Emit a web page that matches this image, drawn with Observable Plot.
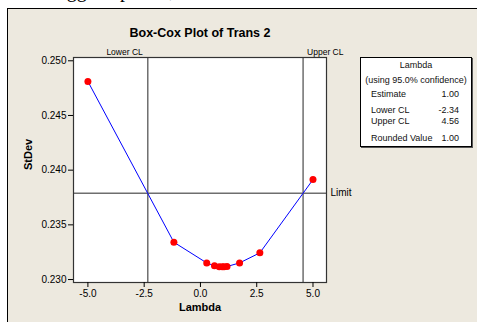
<!DOCTYPE html>
<html><head><meta charset="utf-8">
<script src="https://cdn.jsdelivr.net/npm/d3@7"></script>
<script src="https://cdn.jsdelivr.net/npm/@observablehq/plot@0.6"></script>
<style>
html,body{margin:0;padding:0;background:#fff;}
#wrap{position:relative;width:477px;height:322px;overflow:hidden;font-family:"Liberation Sans",Arial,sans-serif;}
#toptext{position:absolute;left:49px;top:-20px;font-family:"Liberation Serif","Times New Roman",serif;font-size:20px;line-height:20px;color:#000;white-space:nowrap;word-spacing:6px;}
#panel{position:absolute;left:7px;top:8px;width:480px;height:330px;background:#EDE9DF;border:1px solid #000;box-sizing:border-box;}
#chart{position:absolute;left:0;top:0;}
#legend{position:absolute;left:360px;top:57px;width:112px;height:90px;background:#fff;border:1px solid #000;box-sizing:border-box;font-size:9px;color:#111;box-shadow:1px 1px 0 #555;}
#legend div{position:absolute;line-height:10px;white-space:nowrap;}
#legend .c{left:0;right:0;text-align:center;}
#legend .l{left:10px;}
#legend .r{right:12px;text-align:right;}
</style></head>
<body>
<div id="wrap">
  <div id="toptext">suggest power,</div>
  <div id="panel"></div>
  <div id="chart"></div>
  <div id="legend"></div>
</div>
<script>
// Box-Cox search points (lambda) and the StDev at each
const lambdas = [-5, -1.18, 0.279, 0.623, 0.836, 0.967, 1.049, 1.18, 1.738, 2.639, 5];
const stdevs  = [0.24811, 0.23341, 0.23152, 0.23125, 0.23118, 0.23116, 0.23116, 0.23119, 0.23152, 0.23244, 0.23914];
const xTicks = [-5, -2.5, 0, 2.5, 5];
const yTicks = [0.230, 0.235, 0.240, 0.245, 0.250];
const lowerCL = -2.34;
const upperCL = 4.56;
const limit = 0.2379;
const titleText = "Box-Cox Plot of Trans 2";
const legendTitle = ["Lambda", "(using 95.0% confidence)"];
const legendLabels = ["Estimate", "Lower CL", "Upper CL", "Rounded Value"];
const legendValues = [1.00, -2.34, 4.56, 1.00];

const points = lambdas.map((x, i) => ({x, y: stdevs[i]}));
const gray = "#6e6e6e";

const chart = Plot.plot({
  width: 477, height: 322,
  marginLeft: 73, marginRight: 151, marginTop: 57, marginBottom: 40,
  style: {background: "transparent", fontFamily: "'Liberation Sans', Arial, sans-serif", fontSize: "10px", color: "#000", overflow: "visible"},
  x: {domain: [-5.64, 5.6]},
  y: {domain: [0.22973, 0.2503]},
  marks: [
    Plot.frame({fill: "white", stroke: "none"}),
    Plot.ruleX([lowerCL, upperCL], {x: d => d, stroke: gray, strokeWidth: 1.5}),
    Plot.ruleY([limit], {y: d => d, stroke: gray, strokeWidth: 1.5}),
    Plot.line(points, {x: "x", y: "y", stroke: "#0000ff", strokeWidth: 1}),
    Plot.dot(points, {x: "x", y: "y", r: 3.5, fill: "#ff0000", stroke: "none"}),
    Plot.frame({stroke: "#333", strokeWidth: 1.2}),
    Plot.axisX({ticks: xTicks, tickFormat: d => d.toFixed(1), tickSize: 5, tickPadding: 2, label: null, fontSize: 10}),
    Plot.axisY({ticks: yTicks, tickFormat: d => d.toFixed(3), tickSize: 5, tickPadding: 2, label: null, fontSize: 10}),
    Plot.text([titleText], {text: d => d, frameAnchor: "top", lineAnchor: "middle", dy: -25, fontWeight: "bold", fontSize: 12.5}),
    Plot.text(["StDev"], {text: d => d, frameAnchor: "left", dx: -45, rotate: -90, fontWeight: "bold", fontSize: 11}),
    Plot.text(["Lambda"], {text: d => d, frameAnchor: "bottom", lineAnchor: "middle", dy: 25, fontWeight: "bold", fontSize: 11}),
    Plot.text([lowerCL], {x: d => d, text: () => "Lower CL", frameAnchor: "top", lineAnchor: "middle", dy: -5, dx: -5, textAnchor: "end", fontSize: 8.5}),
    Plot.text([upperCL], {x: d => d, text: () => "Upper CL", frameAnchor: "top", lineAnchor: "middle", dy: -5, dx: 4, textAnchor: "start", fontSize: 8.5}),
    Plot.text([limit], {y: d => d, text: () => "Limit", frameAnchor: "right", dx: 4, textAnchor: "start", fontSize: 10})
  ]
});
document.getElementById("chart").appendChild(chart);

// legend box
const lg = document.getElementById("legend");
const rowsTop = [31.3, 47, 57.7, 75.3];
const add = (cls, top, txt) => { const d = document.createElement("div"); d.className = cls; d.style.top = top + "px"; d.textContent = txt; lg.appendChild(d); };
add("c", 2, legendTitle[0]);
add("c", 17, legendTitle[1]);
legendLabels.forEach((t, i) => {
  add("l", rowsTop[i], t);
  add("r", rowsTop[i], legendValues[i].toFixed(2));
});
</script>
</body></html>
